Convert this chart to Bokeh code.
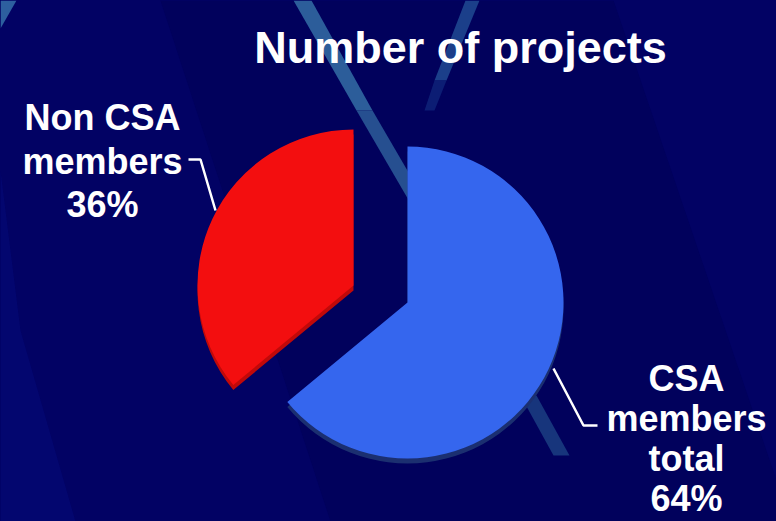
import numpy as np
from bokeh.plotting import figure
from bokeh.models import Range1d, GlobalInlineStyleSheet
from bokeh.core.properties import value
from bokeh.embed import file_html
from bokeh.resources import INLINE

# ---- data ----
categories = ["CSA members total", "Non CSA members"]
shares = [64, 36]
label_lines = [["CSA", "members", "total", "64%"], ["Non CSA", "members", "36%"]]
slice_colors = ["#3566ee", "#f30e0f"]
rim_colors = ["#1b2f70", "#c00909"]
title_text = "Number of projects"

# ---- layout (reference pixel coords -> data coords) ----
W, H = 776, 521
def X(px):
    return px
def Y(py):
    return H - py

BG = "#020264"
p = figure(width=W, height=H, x_range=Range1d(0, W), y_range=Range1d(0, H),
           output_backend="svg", toolbar_location=None, min_border=0)
p.axis.visible = False
p.grid.visible = False
p.outline_line_color = None
p.background_fill_color = BG
p.border_fill_color = BG
p.stylesheets = [GlobalInlineStyleSheet(
    css="html, body { margin: 0; padding: 0; overflow: hidden; background-color: %s; }" % BG)]

# ---- background decoration ----
bands = [
    # darker central band
    ([X(160), X(613), X(790), X(330)], [Y(0), Y(0), Y(521), Y(521)], "#01015c"),
    # left lighter strip
    ([X(0), X(20), X(75), X(0)], [Y(170), Y(330), Y(521), Y(521)], "#03066f"),
    # top-left corner light streak
    ([X(0), X(16), X(0)], [Y(0), Y(0), Y(28)], "#2d5f9f"),
]
for xs, ys, c in bands:
    p.patch(xs, ys, fill_color=c, line_color=None)

streak1 = [
    ((293, 311), (0, 0), (356, 372), (110, 110), "#2c5d9a"),
    ((356, 372), (110, 110), (420, 436), (220, 220), "#264f90"),
    ((520, 536), (395, 395), (553, 569), (455, 455), "#17357c"),
]
for (x0a, x0b), (y0, _), (x1a, x1b), (y1, __), c in streak1:
    p.patch([X(x0a), X(x0b), X(x1b), X(x1a)], [Y(y0), Y(y0), Y(y1), Y(y1)],
            fill_color=c, line_color=None)
p.patch([X(465), X(479), X(446), X(434)], [Y(0), Y(0), Y(80), Y(80)],
        fill_color="#1b3f8a", line_color=None)
p.patch([X(434), X(446), X(434), X(424)], [Y(80), Y(80), Y(110), Y(110)],
        fill_color="#0c1d74", line_color=None)

# ---- pie ----
fr = np.array(shares, dtype=float) / sum(shares)
ang = 2 * np.pi * fr
top = np.pi / 2
# CSA slice runs clockwise from 12 o'clock, Non CSA anticlockwise from 12 o'clock
starts = [top - ang[0], top]
ends = [top, top + ang[1]]
centers = [(X(407), Y(302)), (X(353), Y(285))]
R = 156
depth = 5
for i in range(2):
    cx, cy = centers[i]
    p.wedge(x=[cx], y=[cy - depth], radius=R, start_angle=[starts[i]], end_angle=[ends[i]],
            fill_color=rim_colors[i], line_color=None)
for i in range(2):
    cx, cy = centers[i]
    p.wedge(x=[cx], y=[cy], radius=R, start_angle=[starts[i]], end_angle=[ends[i]],
            fill_color=slice_colors[i], line_color=None)

# ---- leader lines ----
p.line([X(553), X(583), X(597)], [Y(368), Y(425), Y(425)], line_color="white", line_width=2.5)
p.line([X(188), X(200), X(215)], [Y(159), Y(159), Y(210)], line_color="white", line_width=2.5)

# ---- labels ----
label_pos = [(X(686), Y(378)), (X(102), Y(117))]
line_steps = [40.0, 43.5]
for i in range(2):
    lx, ly = label_pos[i]
    n = len(label_lines[i])
    p.text(x=[lx] * n, y=[ly - k * line_steps[i] for k in range(n)], text=label_lines[i],
           text_font=value("Liberation Sans"), text_font_style="bold",
           text_font_size="36px", text_color="white",
           text_align="center", text_baseline="alphabetic")

p.text(x=[X(460)], y=[Y(47)], text=[title_text],
       text_font=value("Liberation Sans"), text_font_style="bold",
       text_font_size="45px", text_color="white",
       text_align="center", text_baseline="alphabetic")

open("out.html", "w").write(file_html(p, INLINE))
